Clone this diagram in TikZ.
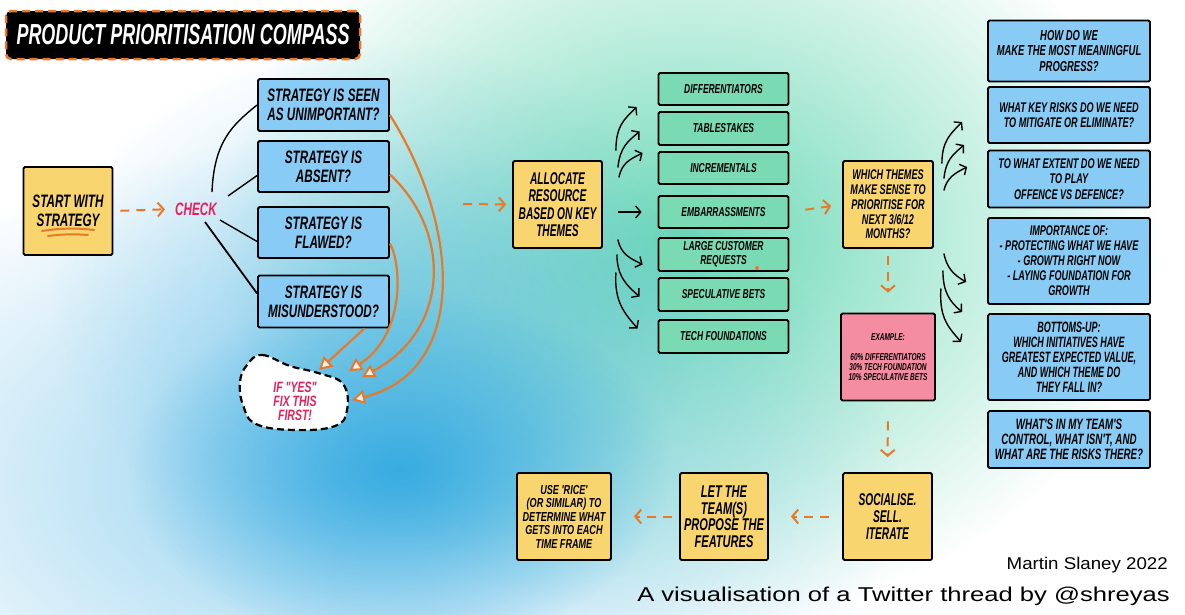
\documentclass[tikz,border=0pt]{standalone}
\usepackage{fontspec}
\setmainfont{Liberation Sans}
\newfontfamily\hfA[FakeStretch=0.7]{Liberation Sans}
\newfontfamily\hfB[FakeStretch=0.65]{Liberation Sans}
\newfontfamily\hfC[FakeStretch=0.6]{Liberation Sans}
\newfontfamily\tf[FakeStretch=0.62]{Liberation Sans}
\newfontfamily\sigA[FakeStretch=1.1]{Liberation Sans}
\newfontfamily\sigB[FakeStretch=1.28]{Liberation Sans}
\usetikzlibrary{arrows.meta,fadings}
\tikzfading[name=myfade, inner color=transparent!0, outer color=transparent!100]
\definecolor{bgblue}{HTML}{2AA6E0}
\definecolor{bgmint}{HTML}{6CD9B6}
\definecolor{bxblue}{HTML}{88CBF4}
\definecolor{bxgreen}{HTML}{7ADAB4}
\definecolor{bxyel}{HTML}{F8D56F}
\definecolor{bxpink}{HTML}{F48CA2}
\definecolor{orng}{HTML}{E8792A}
\definecolor{hot}{HTML}{E8205A}
\newcommand\fs[2]{\fontsize{#1}{#2}\selectfont}
\newcommand\fA{\hfA\bfseries\itshape}
\newcommand\fB{\hfB\bfseries\itshape}
\newcommand\fC{\hfC\bfseries\itshape}
\begin{document}
\begin{tikzpicture}[x=1pt,y=-1pt,
  bx/.style={draw=black, line width=1.8pt, rounded corners=1.5pt, align=center, inner sep=0pt, text=black},
  ybox/.style={bx, fill=bxyel},
  bbox/.style={bx, fill=bxblue},
  gbox/.style={bx, fill=bxgreen, minimum width=130pt, font={\fB\fs{13}{14}}},
  pbox/.style={bx, fill=bxpink},
  oda/.style={draw=orng, line width=2pt, dash pattern=on 9pt off 7pt, -{Straight Barb[length=6pt,width=14pt]}},
  ocurve/.style={draw=orng, line width=2.2pt, -{Triangle[length=13pt,width=14pt,fill=orng!10,line width=2pt]}},
  blk/.style={draw=black, line width=1.4pt},
  barb/.style={blk, -{Straight Barb[length=5pt,width=12pt]}},
  pinktext/.style={text=hot, align=center, inner sep=1pt},
]
\useasboundingbox (0,0) rectangle (1185,614);
\fill[white] (0,0) rectangle (1185,614);
\begin{scope}
  \clip (0,0) rectangle (1185,614);
  \fill[bgmint, path fading=myfade] (690,240) ellipse (470pt and 380pt);
  \fill[bgblue, fill opacity=0.35, path fading=myfade] (380,300) ellipse (330pt and 260pt);
  \fill[bgblue, fill opacity=0.5, path fading=myfade] (340,480) ellipse (560pt and 340pt);
  \fill[bgblue, fill opacity=0.85, path fading=myfade] (400,470) ellipse (270pt and 180pt);
\end{scope}

% title
\node[fill=black, draw=orng, line width=2.5pt, dash pattern=on 8pt off 5pt, rounded corners=5pt,
  minimum width=354pt, minimum height=48pt, text=white, font={\tf\bfseries\itshape\fs{29}{30}}] (title) at (183,35) {PRODUCT PRIORITISATION COMPASS};

% left part
\node[ybox, minimum width=89pt, minimum height=88pt, font={\fB\fs{18}{19}}] (start) at (68,211) {START WITH\\STRATEGY};
\draw[orng, line width=2pt, line cap=round] (42,231) .. controls (60,228) and (80,228) .. (94,230);
\draw[orng, line width=2pt, line cap=round] (48,236) .. controls (62,234) and (76,234) .. (88,235);
\node[pinktext, font={\fB\fs{18}{19}}] (check) at (196,209) {CHECK};

\node[bbox, minimum width=131pt, minimum height=52pt, font={\fB\fs{18}{19}}] (s1) at (323.5,105) {STRATEGY IS SEEN\\AS UNIMPORTANT?};
\node[bbox, minimum width=131pt, minimum height=51pt, font={\fB\fs{18}{19}}] (s2) at (323.5,166.5) {STRATEGY IS\\ABSENT?};
\node[bbox, minimum width=131pt, minimum height=51pt, font={\fB\fs{18}{19}}] (s3) at (323.5,232.5) {STRATEGY IS\\FLAWED?};
\node[bbox, minimum width=131pt, minimum height=52pt, font={\fB\fs{18}{19}}] (s4) at (323.5,301.5) {STRATEGY IS\\MISUNDERSTOOD?};

\draw[oda, shorten <=7pt, shorten >=9pt] (start.east) -- (check.west);
\draw[blk] ([shift={(16,-17)}]check.center) .. controls +(2,-50) and +(-25,20) .. (s1.west);
\draw[blk] ([shift={(32,-13)}]check.center) -- ([yshift=-9pt]s2.west);
\draw[blk] ([shift={(24,11)}]check.center) -- ([yshift=-9pt]s3.west);
\draw[blk, line width=1.8pt] ([shift={(9,13)}]check.center) -- ([yshift=8pt]s4.west);

% cloud
\draw[fill=white, draw=black, line width=2.2pt, dash pattern=on 7pt off 4pt]
  plot[smooth cycle, tension=0.7] coordinates {(247,365) (262,355) (290,366) (318,373) (343,384) (347,410) (335,426) (295,430) (256,424) (243,405) (240,382)};
\node[pinktext, font={\fA\fs{15}{14}}] (cloud) at (295,401) {IF "YES"\\FIX THIS\\FIRST!};
\coordinate (ct1) at (352,400);
\coordinate (ct2) at (362,377);
\coordinate (ct3) at (349,371);
\coordinate (ct4) at (319,370);
\draw[ocurve] ([yshift=-10pt]s1.east) .. controls (462,230) and (467,372) .. (ct1);
\draw[ocurve] ([yshift=-8pt]s2.east) .. controls (452,232) and (450,330) .. (ct2);
\draw[ocurve] ([yshift=-11pt]s3.east) .. controls (402,265) and (405,335) .. (ct3);
\draw[ocurve] ([xshift=41pt]s4.south) -- (ct4);

% middle part
\coordinate (d1) at (463,204);
\node[ybox, minimum width=89pt, minimum height=87pt, font={\fC\fs{17}{17.5}}] (alloc) at (557.5,204.5) {ALLOCATE\\RESOURCE\\BASED ON KEY\\THEMES};
\draw[oda, shorten >=6pt] (d1) -- (alloc.west);

\node[gbox, minimum height=32pt] (g1) at (723.5,89) {DIFFERENTIATORS};
\node[gbox, minimum height=33pt] (g2) at (723.5,128.5) {TABLESTAKES};
\node[gbox, minimum height=32pt] (g3) at (723.5,168) {INCREMENTALS};
\node[gbox, minimum height=32pt] (g4) at (723.5,212) {EMBARRASSMENTS};
\node[gbox, minimum height=33pt] (g5) at (723.5,254.5) {LARGE CUSTOMER\\REQUESTS};
\node[gbox, minimum height=33pt] (g6) at (723.5,294.5) {SPECULATIVE BETS};
\node[gbox, minimum height=33pt] (g7) at (723.5,336.5) {TECH FOUNDATIONS};
\fill[orng] (757,268) circle (2pt);

\draw[barb] ([shift={(13,-54)}]alloc.east) .. controls +(0,-25) and +(-12,12) .. ([shift={(-21,18)}]g1.west);
\draw[barb] ([shift={(15,-37)}]alloc.east) .. controls +(2,-20) and +(-12,10) .. ([shift={(-18,3)}]g2.west);
\draw[barb] ([shift={(16,-27)}]alloc.east) .. controls +(3,-15) and +(-12,6) .. ([shift={(-15,-15)}]g3.west);
\draw[barb, shorten <=15pt, shorten >=16pt] ([yshift=-7.5pt]alloc.east) -- (g4.west);
\draw[barb] ([shift={(15,35)}]alloc.east) .. controls +(3,15) and +(-12,-6) .. ([shift={(-15,10)}]g5.west);
\draw[barb] ([shift={(14,50)}]alloc.east) .. controls +(0,22) and +(-12,-10) .. ([shift={(-18,2)}]g6.west);
\draw[barb] ([shift={(13,68)}]alloc.east) .. controls +(-2,30) and +(-12,-14) .. ([shift={(-20,-8)}]g7.west);

\node[ybox, minimum width=90pt, minimum height=87pt, font={\fB\fs{14}{14.7}}] (which) at (888,204.5) {WHICH THEMES\\MAKE SENSE TO\\PRIORITISE FOR\\NEXT 3/6/12\\MONTHS?};
\draw[oda, shorten <=16pt, shorten >=11pt] (g4.east) -- (which.west);

\node[pbox, minimum width=94pt, minimum height=87pt, font={\fB\fs{10}{10}}] (pink) at (888,357) {EXAMPLE:\\[10pt]60\% DIFFERENTIATORS\\30\% TECH FOUNDATION\\10\% SPECULATIVE BETS};
\draw[oda, shorten <=7pt, shorten >=20pt] (which.south) -- (pink.north);

\node[ybox, minimum width=89pt, minimum height=87pt, font={\fC\fs{17}{17}}] (soc) at (887.5,516.5) {SOCIALISE.\\SELL.\\ITERATE};
\draw[oda, shorten <=20pt, shorten >=15pt] (pink.south) -- (soc.north);
\node[ybox, minimum width=88pt, minimum height=87pt, font={\fB\fs{17}{16.5}}] (team) at (724,516.5) {LET THE\\TEAM(S)\\PROPOSE THE\\FEATURES};
\draw[oda, shorten <=13pt, shorten >=22pt] (soc.west) -- (team.east);
\node[ybox, minimum width=94pt, minimum height=87pt, font={\fA\fs{13}{13.5}}] (rice) at (564,516.5) {USE 'RICE'\\(OR SIMILAR) TO\\DETERMINE WHAT\\GETS INTO EACH\\TIME FRAME};
\draw[oda, shorten <=7pt, shorten >=22pt] (team.west) -- (rice.east);

% right part
\node[bbox, minimum width=162pt, minimum height=61pt, font={\fB\fs{14.5}{15.5}}] (r1) at (1069,51) {HOW DO WE\\MAKE THE MOST MEANINGFUL\\PROGRESS?};
\node[bbox, minimum width=162pt, minimum height=56pt, font={\fB\fs{14}{15.5}}] (r2) at (1069,115) {WHAT KEY RISKS DO WE NEED\\TO MITIGATE OR ELIMINATE?};
\node[bbox, minimum width=162pt, minimum height=57pt, font={\fB\fs{14}{15.5}}] (r3) at (1069,179) {TO WHAT EXTENT DO WE NEED\\TO PLAY\\OFFENCE VS DEFENCE?};
\node[bbox, minimum width=162pt, minimum height=86pt, font={\fB\fs{14}{15}}] (r4) at (1069,261) {IMPORTANCE OF:\\- PROTECTING WHAT WE HAVE\\- GROWTH RIGHT NOW\\- LAYING FOUNDATION FOR\\GROWTH};
\node[bbox, minimum width=162pt, minimum height=86pt, font={\fC\fs{15}{15}}] (r5) at (1069,357) {BOTTOMS-UP:\\WHICH INITIATIVES HAVE\\GREATEST EXPECTED VALUE,\\AND WHICH THEME DO\\THEY FALL IN?};
\node[bbox, minimum width=162pt, minimum height=57pt, font={\fB\fs{15}{15}}] (r6) at (1069,439.5) {WHAT'S IN MY TEAM'S\\CONTROL, WHAT ISN'T, AND\\WHAT ARE THE RISKS THERE?};

\draw[barb] ([shift={(8,-41)}]which.east) .. controls +(0,-22) and +(-12,12) .. ([shift={(-25,7)}]r2.west);
\draw[barb] ([shift={(10,-26)}]which.east) .. controls +(2,-18) and +(-12,10) .. ([shift={(-23,-34)}]r3.west);
\draw[barb] ([shift={(10,-14)}]which.east) .. controls +(3,-13) and +(-12,6) .. ([shift={(-20,-12)}]r3.west);
\draw[barb] ([shift={(10,49)}]which.east) .. controls +(3,15) and +(-12,-7) .. ([shift={(-21,21)}]r4.west);
\draw[barb] ([shift={(9,66)}]which.east) .. controls +(0,22) and +(-12,-10) .. ([shift={(-25,-45)}]r5.west);
\draw[barb] ([shift={(7,84)}]which.east) .. controls +(-2,30) and +(-12,-14) .. ([shift={(-26,-15)}]r5.west);

% signature
\node[anchor=east, inner sep=0pt, font={\sigA\fs{17}{20}}] (sig1) at (1168,565) {Martin Slaney 2022};
\node[anchor=east, inner sep=0pt, font={\sigB\fs{20}{22}}] (sig2) at (1170,596) {A visualisation of a Twitter thread by @shreyas};
\end{tikzpicture}
\end{document}
